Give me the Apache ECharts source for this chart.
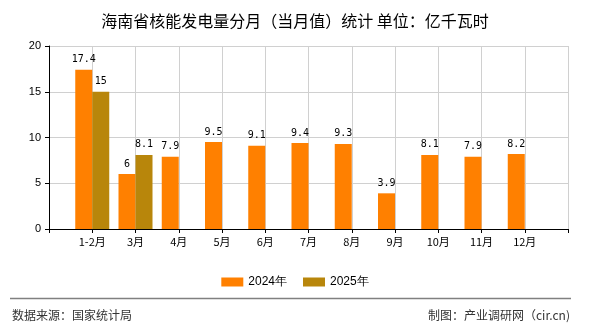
<!DOCTYPE html>
<html>
<head>
<meta charset="utf-8">
<script src="https://cdn.jsdelivr.net/npm/echarts@6/dist/echarts.min.js"></script>
<style>
html,body{margin:0;padding:0;background:#fff;}
#chart{width:590px;height:330px;}
</style>
</head>
<body>
<div id="chart"></div>
<script>
var categories = ['', '1-2月', '3月', '4月', '5月', '6月', '7月', '8月', '9月', '10月', '11月', '12月', ''];
var series2024 = [null, 17.4, 6, 7.9, 9.5, 9.1, 9.4, 9.3, 3.9, 8.1, 7.9, 8.2, null];
var series2025 = [null, 15, 8.1, null, null, null, null, null, null, null, null, null, null];
var yTicks = [0, 5, 10, 15, 20];
var titleText = '海南省核能发电量分月（当月值）统计 单位：亿千瓦时';
var sourceText = '数据来源：国家统计局';
var makerText = '制图：产业调研网（cir.cn)';

var chart = echarts.init(document.getElementById('chart'), null, {renderer: 'canvas'});
var labelStyle = {
  show: true, position: 'top', distance: 5,
  fontFamily: 'DejaVu Sans Mono', fontSize: 10, color: '#000'
};
chart.setOption({
  animation: false,
  backgroundColor: '#fff',
  title: {
    text: titleText, left: 'center', top: 8,
    textStyle: {fontFamily: 'Noto Sans CJK SC', fontSize: 16, fontWeight: 'normal', color: '#000'}
  },
  legend: {
    left: 'center', top: 271, itemWidth: 22, itemHeight: 9, itemGap: 16,
    icon: 'rect',
    textStyle: {fontFamily: 'Liberation Sans', fontSize: 12, color: '#000'},
    data: ['2024年', '2025年']
  },
  grid: {left: 49, right: 22, top: 46, bottom: 101, containLabel: false},
  xAxis: {
    type: 'category', data: categories, boundaryGap: false,
    axisLine: {lineStyle: {color: '#000'}},
    axisTick: {show: true, length: 4, interval: 0, lineStyle: {color: '#000'}},
    axisLabel: {interval: 0, fontSize: 11, color: '#000', margin: 7, fontFamily: 'Noto Sans CJK SC'},
    splitLine: {show: true, interval: 0, lineStyle: {color: '#d0d0d0'}}
  },
  yAxis: {
    type: 'value', min: yTicks[0], max: yTicks[yTicks.length - 1], interval: 5,
    axisLine: {show: true, lineStyle: {color: '#000'}},
    axisTick: {show: true, length: 4, lineStyle: {color: '#000'}},
    axisLabel: {fontSize: 11, color: '#000', margin: 8, fontFamily: 'Liberation Sans'},
    splitLine: {show: true, lineStyle: {color: '#d0d0d0'}}
  },
  series: [
    {name: '2024年', type: 'bar', data: series2024, barWidth: 17, barGap: '0%',
     itemStyle: {color: '#FF8000'}, label: labelStyle},
    {name: '2025年', type: 'bar', data: series2025, barWidth: 17, barGap: '0%',
     itemStyle: {color: '#B8860B'}, label: labelStyle}
  ],
  graphic: [
    {type: 'line', shape: {x1: 10, y1: 298.5, x2: 571, y2: 298.5}, style: {stroke: '#808080', lineWidth: 1.5}},
    {type: 'text', left: 12, top: 309, style: {text: sourceText, font: '12px "Noto Sans CJK SC"', fill: '#333'}},
    {type: 'text', right: 20, top: 309, style: {text: makerText, font: '12px "Noto Sans CJK SC"', fill: '#333'}}
  ]
});
</script>
</body>
</html>
